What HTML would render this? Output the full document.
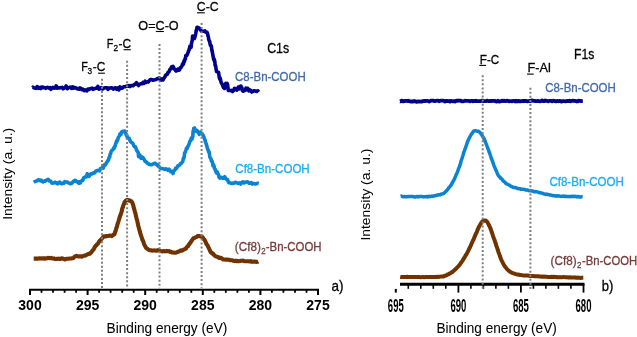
<!DOCTYPE html>
<html><head><meta charset="utf-8"><style>
html,body{margin:0;padding:0;background:#fff;}
svg{display:block;will-change:transform;}
text{font-family:"Liberation Sans",sans-serif;}
</style></head><body>
<svg width="637" height="337" viewBox="0 0 637 337">
<rect width="637" height="337" fill="#fff"/>
<path d="M32.4 87.8 L33.0 87.2 L33.9 87.9 L34.8 88.0 L36.0 88.4 L37.2 86.6 L38.6 88.3 L40.0 87.4 L40.8 88.5 L41.7 87.0 L42.7 87.1 L43.6 87.8 L44.7 87.6 L45.7 88.4 L46.8 87.5 L47.8 87.4 L48.9 88.1 L50.0 87.6 L51.0 89.3 L52.0 87.9 L53.0 87.4 L54.0 88.1 L55.1 88.0 L56.1 85.9 L57.1 88.2 L58.1 87.5 L59.1 88.0 L60.1 87.7 L61.1 87.7 L62.1 87.3 L63.1 88.8 L64.0 88.1 L65.0 87.5 L66.1 85.9 L67.2 88.7 L68.3 88.0 L69.4 87.4 L70.5 87.1 L71.5 88.3 L72.6 86.8 L73.5 88.2 L74.4 87.6 L75.3 87.5 L76.0 88.1 L77.5 88.9 L78.4 88.5 L79.2 89.2 L80.0 87.9 L80.9 88.5 L81.8 89.7 L82.8 89.2 L84.0 90.6 L84.9 89.8 L85.8 90.4 L86.9 90.9 L88.0 89.0 L89.1 89.5 L90.1 88.8 L91.0 88.6 L92.1 88.2 L93.0 89.3 L94.0 88.8 L94.9 88.5 L96.0 88.1 L96.9 88.2 L97.9 86.4 L99.0 89.1 L100.0 88.6 L101.1 87.7 L102.1 88.9 L103.0 88.9 L104.1 87.9 L105.2 87.7 L106.1 87.7 L107.1 87.8 L108.0 89.4 L109.1 88.0 L110.2 88.1 L111.3 87.8 L112.6 88.3 L113.5 89.1 L114.5 88.1 L115.6 87.8 L116.7 89.3 L117.8 87.9 L118.9 89.9 L120.0 86.9 L121.0 88.3 L122.1 88.2 L123.1 87.2 L124.2 86.7 L125.2 86.8 L126.1 86.2 L127.0 86.1 L128.1 86.2 L129.1 85.7 L130.0 86.6 L131.0 85.5 L132.0 85.8 L133.1 85.7 L134.2 84.5 L135.3 84.2 L136.5 82.6 L137.7 84.7 L138.7 85.5 L139.8 84.1 L140.8 83.8 L141.9 83.8 L142.9 82.5 L144.0 83.4 L145.1 81.2 L146.2 82.4 L147.3 81.9 L148.3 82.1 L149.3 80.6 L150.3 79.5 L151.6 79.5 L152.8 80.3 L153.9 79.9 L155.0 79.7 L156.2 79.5 L157.3 78.5 L158.4 78.7 L159.3 77.9 L161.0 80.1 L162.0 78.9 L163.0 79.9 L163.6 78.8 L164.3 77.8 L165.0 76.6 L165.5 75.3 L166.1 75.1 L166.7 74.4 L167.3 74.3 L168.0 72.4 L168.6 72.3 L169.2 71.3 L169.8 69.5 L170.5 69.3 L171.1 67.9 L171.7 66.7 L172.2 66.6 L173.0 66.4 L173.5 67.2 L174.0 68.9 L174.9 69.2 L176.0 71.0 L176.9 70.8 L178.0 69.1 L179.0 70.1 L179.6 69.8 L180.2 67.7 L180.9 67.8 L181.5 66.4 L182.0 66.0 L182.4 64.3 L182.9 63.5 L183.4 64.3 L184.0 60.9 L184.5 61.5 L184.9 59.1 L185.4 59.0 L185.8 55.5 L186.3 55.8 L186.8 55.4 L187.3 54.4 L187.7 53.3 L188.2 52.2 L188.6 50.7 L189.0 50.2 L189.4 48.8 L189.9 46.2 L190.3 47.2 L190.7 46.7 L191.1 47.4 L191.4 43.7 L191.7 42.7 L192.0 41.1 L192.3 40.4 L192.4 38.9 L192.4 38.1 L192.4 37.1 L192.5 37.3 L192.6 36.1 L193.4 37.3 L194.5 38.4 L194.8 37.2 L195.0 36.6 L195.3 35.5 L195.6 34.1 L195.9 32.5 L196.2 31.2 L196.5 29.5 L196.7 29.6 L197.0 27.2 L198.9 28.0 L199.7 28.4 L200.5 30.0 L201.4 31.2 L202.6 31.3 L203.9 31.1 L204.9 30.9 L206.0 32.3 L207.0 32.2 L207.3 33.4 L207.6 33.6 L207.9 35.7 L208.2 36.2 L208.4 36.9 L208.7 39.6 L209.0 39.8 L209.3 41.1 L209.7 41.3 L210.0 43.7 L210.4 45.4 L210.7 45.1 L211.1 45.5 L211.4 46.9 L211.6 48.0 L211.8 50.3 L212.1 50.4 L212.3 52.4 L212.5 52.5 L212.7 54.4 L212.9 55.1 L213.1 56.6 L213.3 57.3 L213.5 58.7 L213.8 59.7 L214.0 60.2 L214.3 59.2 L214.6 61.9 L214.8 61.2 L215.1 65.2 L215.3 65.8 L215.5 65.4 L215.8 66.8 L216.1 69.3 L216.3 70.0 L216.5 71.4 L216.8 71.7 L218.4 72.4 L218.6 72.4 L218.8 73.8 L219.0 75.9 L219.2 76.2 L219.3 77.7 L219.6 78.5 L219.8 79.0 L220.3 78.2 L220.9 81.6 L221.4 83.1 L222.0 83.9 L222.5 84.8 L223.0 86.4 L223.4 87.5 L224.0 87.9 L224.5 88.4 L225.2 84.6 L225.8 83.4 L226.4 85.3 L226.9 83.7 L227.2 83.4 L227.4 85.5 L227.6 84.4 L227.9 87.8 L228.3 90.4 L229.1 89.9 L230.2 90.6 L231.3 90.4 L232.5 91.6 L233.5 90.5 L234.5 88.3 L235.6 88.9 L236.6 90.2 L237.5 89.4 L238.3 87.0 L239.1 88.9 L239.8 87.3 L240.4 86.2 L241.0 86.1 L241.5 88.9 L241.9 87.7 L242.2 90.3 L242.6 90.7 L243.0 91.2 L243.7 91.0 L244.5 90.5 L245.2 90.5 L246.0 88.1 L246.9 88.4 L247.8 88.4 L248.8 90.8 L249.7 89.9 L250.7 90.4 L251.8 92.0 L253.0 91.2 L254.1 90.8 L255.4 91.0 L256.8 91.4 L257.9 90.9 L258.7 92.0" fill="none" stroke="#00008a" stroke-width="3.6" stroke-linejoin="round" stroke-linecap="butt"/>
<path d="M33.7 182.2 L34.4 181.8 L35.4 181.4 L36.6 181.0 L37.8 180.1 L39.0 179.8 L39.9 180.6 L41.1 180.1 L41.9 181.4 L43.0 181.9 L43.9 181.0 L44.9 181.3 L46.0 180.5 L47.1 179.8 L48.1 179.3 L49.1 180.9 L50.0 180.7 L50.9 181.4 L51.9 183.1 L53.1 183.0 L54.1 183.0 L55.2 182.2 L56.3 182.9 L57.5 183.8 L58.6 182.5 L59.7 182.1 L60.7 183.5 L61.9 183.6 L62.9 183.0 L63.8 183.3 L64.7 181.7 L65.7 182.0 L66.8 182.0 L68.0 182.5 L69.1 183.1 L70.2 183.7 L71.3 183.5 L72.3 182.8 L73.2 181.4 L74.1 181.5 L74.9 180.4 L75.7 180.6 L76.8 182.0 L77.7 181.8 L78.9 183.3 L79.6 181.8 L80.3 182.9 L81.1 181.1 L81.9 180.8 L82.8 180.4 L83.6 177.7 L84.5 177.2 L85.4 176.9 L86.3 177.0 L87.2 173.8 L88.2 175.3 L89.1 176.4 L90.0 174.9 L90.8 173.9 L91.9 174.0 L92.9 173.0 L93.8 173.2 L94.8 172.7 L95.8 171.1 L96.7 171.0 L97.7 170.4 L98.7 170.6 L99.6 170.9 L100.5 168.5 L101.4 168.4 L102.3 167.6 L103.2 168.1 L104.0 165.7 L104.7 164.5 L105.5 164.8 L106.1 163.4 L106.8 162.1 L107.4 161.5 L107.9 160.4 L108.4 160.2 L108.9 158.3 L109.3 157.0 L109.7 157.2 L109.9 155.3 L110.2 154.0 L110.5 153.9 L111.1 151.8 L111.7 150.5 L112.3 150.2 L112.8 149.8 L113.4 148.7 L114.0 147.5 L114.4 148.1 L114.8 146.0 L115.2 145.8 L115.7 143.7 L116.1 143.0 L116.6 140.8 L117.1 141.1 L117.6 140.2 L118.1 138.2 L118.6 137.0 L119.0 136.5 L119.5 135.6 L120.0 133.8 L120.5 133.9 L121.0 134.4 L121.4 132.3 L121.8 131.8 L123.3 131.3 L124.8 131.1 L125.3 133.0 L125.8 133.2 L126.3 135.3 L126.9 135.4 L127.5 138.3 L128.3 138.2 L129.2 138.3 L129.9 140.3 L130.6 141.7 L131.4 142.2 L132.0 142.9 L132.7 143.2 L133.4 144.7 L134.1 146.4 L134.7 146.5 L135.4 146.9 L136.1 148.5 L136.7 150.5 L137.3 151.3 L137.8 151.6 L138.2 152.6 L138.6 156.7 L139.0 154.3 L139.6 155.1 L140.3 155.8 L141.1 158.4 L141.9 156.8 L142.8 157.5 L143.7 158.7 L144.4 160.0 L145.0 161.4 L145.7 161.2 L146.5 162.3 L147.2 163.1 L148.0 163.2 L148.9 164.4 L149.8 164.4 L150.9 164.7 L152.0 164.6 L153.1 163.9 L154.2 163.5 L155.2 163.3 L156.1 163.9 L157.1 165.2 L157.9 164.9 L158.6 166.6 L159.4 166.9 L160.3 168.2 L161.2 168.5 L162.3 168.5 L163.4 168.9 L164.6 169.4 L165.6 168.8 L166.5 169.0 L167.9 170.3 L169.0 169.2 L170.0 170.3 L170.8 171.8 L171.5 171.7 L172.4 172.3 L173.0 173.5 L173.6 170.8 L174.3 170.7 L175.0 169.8 L175.8 168.1 L176.5 168.2 L177.2 167.1 L178.0 165.8 L178.9 165.5 L179.8 164.8 L180.6 163.5 L181.4 163.3 L182.0 162.3 L182.6 161.7 L183.0 160.4 L183.4 158.1 L183.7 158.6 L184.0 157.3 L184.3 156.3 L184.6 152.9 L184.9 152.4 L185.2 152.2 L185.5 151.6 L185.9 150.2 L186.3 148.6 L186.8 148.0 L187.2 148.3 L187.6 147.2 L188.1 146.0 L188.6 145.2 L189.1 143.7 L189.6 142.5 L190.0 141.2 L190.7 140.3 L191.3 138.1 L191.9 139.2 L192.4 137.5 L192.6 136.3 L192.8 136.6 L192.9 135.2 L193.0 132.7 L193.2 130.8 L193.3 132.1 L193.8 128.4 L194.5 128.0 L195.2 129.5 L196.1 131.3 L197.2 130.6 L198.2 132.2 L199.3 134.4 L200.3 132.1 L201.2 133.1 L202.0 133.6 L202.5 134.5 L203.0 135.0 L203.5 136.1 L203.9 136.9 L204.5 139.1 L204.8 139.8 L205.1 140.1 L205.4 141.9 L205.8 142.7 L206.1 143.7 L206.5 144.8 L206.9 146.4 L207.2 147.5 L207.5 148.2 L207.7 149.3 L208.2 150.0 L208.6 151.6 L208.8 152.2 L209.0 152.2 L209.2 152.0 L209.5 154.6 L209.7 155.8 L210.0 157.2 L210.3 158.2 L210.9 158.6 L211.5 161.3 L212.1 161.3 L212.7 163.7 L213.0 165.8 L213.3 164.7 L213.6 165.2 L213.9 165.6 L214.2 167.0 L214.5 168.5 L215.1 169.2 L215.7 171.0 L216.3 172.8 L216.9 171.5 L217.5 172.3 L218.0 174.1 L218.5 174.6 L219.2 177.7 L220.0 178.1 L220.8 177.3 L221.8 177.5 L222.8 178.2 L223.7 178.3 L224.7 176.7 L225.7 178.5 L226.7 179.5 L227.5 179.6 L228.4 182.2 L229.0 182.8 L229.9 182.6 L230.9 183.3 L232.1 183.4 L233.4 183.2 L234.7 182.7 L235.8 182.3 L237.0 182.8 L238.2 183.4 L239.4 182.9 L240.6 184.1 L241.8 182.4 L243.0 181.8 L244.1 182.9 L245.3 182.3 L246.5 182.0 L247.7 181.8 L248.8 183.1 L250.0 183.2 L251.2 182.6 L252.4 184.1 L253.5 183.4 L254.7 183.9 L256.0 183.9 L257.1 183.5 L258.1 183.3 L258.8 183.5" fill="none" stroke="#0983d2" stroke-width="3.6" stroke-linejoin="round" stroke-linecap="butt"/>
<path d="M33.7 258.6 L34.3 258.6 L35.0 258.6 L35.8 258.6 L36.8 258.6 L37.8 258.8 L38.9 258.4 L40.0 258.3 L41.2 258.6 L42.4 258.2 L43.5 258.2 L44.7 258.8 L45.8 258.4 L46.8 258.3 L47.9 257.8 L48.9 258.0 L50.0 258.2 L51.0 257.8 L52.1 258.3 L53.1 258.6 L54.2 258.4 L55.2 259.1 L56.3 258.9 L57.3 259.0 L58.4 258.6 L59.4 258.9 L60.5 258.9 L61.6 258.3 L62.8 258.5 L63.9 259.1 L65.1 259.5 L66.3 258.8 L67.4 258.8 L68.5 258.7 L69.5 258.5 L70.4 258.5 L71.3 258.5 L72.0 258.3 L73.5 257.9 L74.3 257.0 L74.9 256.4 L75.7 256.4 L76.6 255.8 L77.6 256.2 L78.7 256.5 L79.8 256.2 L80.8 256.3 L81.8 256.7 L82.8 256.1 L83.8 255.7 L84.8 255.6 L85.8 255.5 L86.8 254.6 L87.8 254.3 L88.8 253.8 L89.8 253.7 L90.8 252.7 L91.4 252.4 L92.0 251.1 L92.7 250.4 L93.3 249.8 L93.9 248.9 L94.5 247.6 L95.2 246.4 L95.8 245.6 L96.4 245.2 L97.1 244.2 L97.8 243.8 L98.4 242.9 L99.1 241.5 L99.7 240.8 L100.3 240.4 L100.9 239.6 L101.9 238.6 L102.8 237.4 L103.7 236.5 L104.6 236.3 L105.6 236.5 L106.7 236.1 L107.8 235.9 L108.9 235.7 L109.9 235.6 L110.9 235.7 L111.9 236.1 L112.9 235.2 L113.8 234.3 L114.2 234.4 L114.6 233.7 L114.9 232.9 L115.3 231.4 L115.7 230.8 L116.0 229.7 L116.3 228.1 L116.7 227.4 L117.1 226.2 L117.4 224.7 L117.8 223.4 L118.1 222.4 L118.4 221.6 L118.7 220.6 L119.0 219.4 L119.3 218.7 L119.6 217.3 L119.9 216.8 L120.3 215.2 L120.6 215.0 L120.9 213.8 L121.2 213.0 L121.5 212.0 L121.8 210.9 L122.0 209.7 L122.3 208.3 L122.8 207.5 L123.2 205.7 L123.6 204.6 L124.0 203.9 L124.4 202.8 L124.8 201.8 L125.2 201.6 L125.6 200.9 L126.7 200.0 L127.9 199.8 L129.0 200.6 L129.8 200.4 L130.7 201.0 L131.5 201.4 L132.3 202.6 L132.6 203.5 L132.8 204.4 L133.1 204.6 L133.4 206.0 L133.6 207.0 L133.9 207.9 L134.1 209.0 L134.4 209.4 L134.7 211.0 L135.0 212.3 L135.3 212.8 L135.6 214.2 L135.8 215.1 L136.0 216.3 L136.3 217.2 L136.5 218.2 L136.8 219.4 L137.0 219.8 L137.3 221.0 L137.5 222.2 L137.8 223.3 L138.0 224.3 L138.3 226.0 L138.6 226.9 L138.8 227.4 L139.1 228.8 L139.3 229.7 L139.6 230.6 L139.9 231.5 L140.1 232.6 L140.4 233.8 L140.8 234.7 L141.1 235.7 L141.5 236.8 L141.8 237.6 L142.1 238.9 L142.5 239.9 L142.8 240.4 L143.1 241.0 L143.5 242.0 L143.8 243.1 L144.2 244.2 L144.5 245.1 L145.2 246.1 L145.8 247.5 L146.5 248.2 L147.2 248.8 L148.0 249.3 L149.0 249.9 L149.9 250.3 L150.9 250.2 L152.0 250.6 L153.2 250.5 L154.4 250.4 L155.6 250.6 L156.8 250.6 L157.9 250.1 L159.0 250.6 L160.2 250.8 L161.4 251.3 L162.6 251.4 L163.7 251.0 L164.8 251.4 L165.9 251.3 L166.8 250.9 L168.1 251.2 L169.2 251.1 L170.1 251.9 L171.1 251.9 L172.0 252.4 L173.2 252.6 L174.3 252.6 L175.4 252.7 L176.5 252.4 L177.6 251.9 L178.8 251.8 L179.9 250.8 L180.9 250.4 L182.2 250.6 L183.3 249.8 L184.5 249.4 L185.2 248.7 L185.9 248.7 L186.7 247.3 L187.4 246.4 L188.1 246.1 L188.7 244.7 L189.3 244.3 L189.9 243.2 L190.5 242.4 L191.1 241.7 L191.6 240.7 L192.5 239.8 L193.4 238.3 L194.3 238.1 L195.4 237.3 L196.7 236.8 L197.9 235.9 L199.1 236.1 L200.4 236.4 L201.5 236.2 L202.4 237.2 L203.2 238.3 L204.1 239.7 L204.6 239.8 L205.1 240.8 L205.6 241.9 L206.1 243.2 L206.6 244.3 L207.2 244.9 L207.7 245.7 L208.2 246.8 L208.7 247.8 L209.2 248.9 L209.6 249.6 L210.1 250.9 L210.7 252.2 L211.3 252.4 L212.1 253.4 L212.9 253.6 L213.8 254.8 L214.7 255.6 L215.7 256.3 L216.6 256.6 L217.5 256.9 L218.4 257.4 L219.3 258.0 L220.3 257.7 L221.3 258.0 L222.3 258.9 L223.2 259.5 L224.2 259.5 L225.1 259.5 L226.1 259.8 L227.2 259.5 L228.2 259.7 L229.3 259.8 L230.3 260.3 L231.3 260.2 L232.4 260.3 L233.5 260.8 L234.5 261.1 L235.6 260.7 L236.7 261.2 L237.8 260.9 L238.9 261.2 L239.9 261.0 L241.0 260.7 L242.1 260.7 L243.1 260.6 L244.2 261.1 L245.2 261.2 L246.3 261.3 L247.4 261.3 L248.5 261.2 L249.7 261.5 L250.8 261.1 L251.9 261.9 L252.9 261.6 L253.9 261.7 L254.7 261.6 L256.4 261.9 L257.5 261.8 L258.3 261.4" fill="none" stroke="#703300" stroke-width="4.1" stroke-linejoin="round" stroke-linecap="butt"/>
<path d="M400.0 101.3 L400.5 101.4 L401.1 100.8 L401.7 100.7 L402.4 100.9 L403.1 101.4 L403.8 101.3 L404.6 101.0 L405.4 101.0 L406.3 100.8 L407.2 101.0 L408.1 100.7 L409.1 101.2 L410.0 101.4 L411.0 101.5 L412.1 101.4 L413.1 101.6 L414.2 101.0 L415.3 101.3 L416.4 101.8 L417.5 101.6 L418.6 101.3 L419.8 101.7 L420.9 101.5 L422.1 101.6 L423.2 101.1 L424.4 100.9 L425.6 101.0 L426.7 100.8 L427.9 101.0 L429.1 101.5 L430.2 101.0 L431.4 100.7 L432.5 100.6 L433.6 100.7 L434.7 101.2 L435.8 100.8 L436.9 100.7 L438.0 100.6 L439.0 101.3 L440.0 100.8 L441.0 100.7 L442.0 100.6 L443.0 100.7 L444.0 100.9 L445.0 101.5 L446.0 101.0 L447.0 100.9 L448.0 101.2 L449.0 101.0 L450.0 101.6 L451.0 100.9 L452.0 101.2 L453.0 101.4 L454.0 101.1 L455.0 101.5 L456.0 100.9 L457.0 100.6 L458.0 100.8 L459.0 100.5 L460.0 100.8 L461.0 100.7 L462.0 101.3 L463.0 101.3 L464.0 101.1 L465.0 100.7 L466.0 100.9 L467.0 100.9 L468.0 100.9 L469.0 100.9 L470.0 101.4 L471.0 100.9 L472.0 100.8 L473.0 101.3 L474.0 100.9 L475.0 101.1 L476.0 100.7 L477.0 101.2 L478.0 101.1 L479.0 101.2 L480.0 101.2 L481.0 101.0 L482.0 100.6 L483.0 100.7 L484.0 101.2 L485.0 101.2 L486.0 101.1 L487.0 100.6 L488.0 100.9 L489.0 101.1 L490.0 101.0 L491.0 101.1 L492.0 100.8 L493.0 100.8 L494.0 101.0 L495.0 100.8 L496.0 101.5 L497.0 101.5 L498.0 100.8 L499.0 101.5 L500.0 101.5 L501.0 101.2 L502.0 100.6 L503.0 101.2 L504.0 100.6 L505.0 101.2 L506.0 101.1 L507.0 100.7 L508.0 100.9 L509.0 101.3 L510.0 101.1 L511.0 101.2 L512.0 101.4 L513.0 100.9 L514.0 100.8 L515.0 101.5 L516.0 100.8 L517.0 101.5 L518.0 100.8 L519.0 101.3 L520.0 101.2 L521.0 101.3 L522.0 101.0 L523.0 101.3 L524.1 100.8 L525.1 101.2 L526.2 100.9 L527.2 101.4 L528.3 101.2 L529.3 101.0 L530.4 101.0 L531.5 100.5 L532.5 100.5 L533.6 100.9 L534.7 100.9 L535.8 101.2 L536.8 101.1 L537.9 100.8 L539.0 101.1 L540.0 101.3 L541.1 101.0 L542.1 100.4 L543.2 101.1 L544.2 101.1 L545.2 100.5 L546.3 100.9 L547.3 100.9 L548.3 101.4 L549.3 100.9 L550.2 100.8 L551.2 100.9 L552.2 101.4 L553.1 100.7 L554.0 100.8 L554.9 101.2 L555.8 101.4 L556.7 101.1 L557.6 101.0 L558.4 101.3 L559.2 101.2 L560.0 100.8 L561.4 101.6 L562.8 101.2 L564.2 101.1 L565.5 101.4 L566.8 100.9 L568.1 101.2 L569.3 100.7 L570.5 101.4 L571.7 100.8 L572.8 100.7 L573.9 100.9 L574.9 100.9 L576.0 101.1 L576.9 101.5 L577.8 101.3 L578.7 100.6 L579.5 100.8 L580.3 101.0 L581.0 101.0 L581.6 101.2 L582.3 101.1 L582.8 101.1" fill="none" stroke="#00008a" stroke-width="3.8" stroke-linejoin="round" stroke-linecap="butt"/>
<path d="M400.6 196.3 L401.2 196.1 L401.9 196.3 L402.7 196.5 L403.7 196.7 L404.7 196.4 L405.8 196.8 L406.9 196.7 L408.1 196.6 L409.3 196.6 L410.6 196.5 L411.8 196.5 L413.0 196.5 L414.1 196.9 L415.3 197.1 L416.3 196.7 L417.3 196.5 L418.4 196.9 L419.6 196.5 L420.6 196.5 L421.7 196.5 L422.8 196.7 L423.8 196.9 L424.8 196.7 L425.8 196.8 L426.8 196.5 L427.7 196.9 L428.7 196.3 L429.7 196.5 L430.6 196.6 L431.7 196.1 L432.8 196.2 L433.9 196.1 L435.0 195.7 L436.1 195.6 L437.1 195.1 L438.1 195.1 L439.1 194.7 L440.1 194.8 L441.0 194.1 L441.8 193.9 L442.9 193.8 L443.8 193.2 L444.7 192.6 L445.5 191.7 L446.3 191.0 L447.0 190.3 L447.8 189.2 L448.5 188.2 L449.1 187.5 L449.7 186.7 L450.2 186.0 L450.8 185.6 L451.3 184.7 L451.9 183.6 L452.4 182.7 L452.9 181.7 L453.5 180.6 L454.0 179.6 L454.4 179.1 L454.8 178.2 L455.2 177.0 L455.6 176.2 L456.0 175.2 L456.4 174.2 L456.9 173.3 L457.3 172.4 L457.7 171.1 L458.1 170.2 L458.5 168.8 L458.9 168.0 L459.2 167.2 L459.6 166.2 L459.9 164.9 L460.3 164.3 L460.6 163.0 L460.9 162.0 L461.2 160.6 L461.5 159.9 L461.8 158.9 L462.1 158.2 L462.4 157.2 L462.7 156.3 L463.0 155.2 L463.3 154.2 L463.6 153.0 L463.9 152.2 L464.2 151.3 L464.6 150.4 L464.9 149.2 L465.3 148.5 L465.6 147.5 L466.0 146.3 L466.4 145.4 L466.7 144.3 L467.1 143.0 L467.5 142.0 L467.8 140.9 L468.2 140.5 L468.5 139.8 L468.9 138.7 L469.5 137.6 L470.1 136.4 L470.7 135.4 L471.3 134.2 L471.9 133.7 L472.5 132.8 L473.0 132.1 L473.5 131.3 L474.6 130.7 L475.5 130.8 L476.4 131.0 L477.5 131.2 L478.7 131.3 L479.9 132.3 L480.5 133.1 L481.0 133.9 L481.6 134.5 L482.2 135.7 L482.8 136.7 L483.5 137.7 L483.9 138.6 L484.2 139.2 L484.6 139.9 L485.0 140.9 L485.4 142.1 L485.8 143.0 L486.2 144.1 L486.7 145.0 L487.1 146.3 L487.5 147.4 L487.9 148.6 L488.3 149.6 L488.7 150.4 L489.0 151.8 L489.4 152.2 L489.8 153.5 L490.1 154.5 L490.5 155.7 L490.8 156.6 L491.2 158.1 L491.6 158.9 L491.9 159.6 L492.3 160.8 L492.6 161.4 L493.0 162.7 L493.4 163.8 L493.8 165.1 L494.2 166.3 L494.7 167.3 L495.1 168.0 L495.5 169.3 L495.9 170.1 L496.3 170.9 L496.7 171.7 L497.1 172.9 L497.5 173.8 L498.1 175.1 L498.7 176.0 L499.3 176.6 L500.0 177.2 L500.6 178.3 L501.3 178.5 L502.0 179.3 L502.8 180.4 L503.6 181.2 L504.5 181.7 L505.3 182.8 L506.2 183.7 L507.1 183.9 L508.0 184.5 L509.0 184.9 L510.0 185.5 L511.1 186.5 L512.1 186.7 L513.1 187.3 L514.0 187.5 L515.1 187.5 L516.1 187.7 L517.1 188.5 L518.0 188.5 L519.0 188.7 L520.0 188.8 L520.9 189.4 L521.8 189.2 L522.8 189.2 L523.9 189.4 L524.8 189.4 L525.7 190.0 L526.6 190.1 L527.6 190.1 L528.7 190.5 L529.8 190.7 L531.0 190.5 L531.9 191.0 L532.9 191.1 L533.9 191.7 L534.9 191.7 L536.0 191.6 L537.1 191.9 L538.2 192.1 L539.3 192.8 L540.4 192.7 L541.5 193.1 L542.5 193.3 L543.5 193.7 L544.5 194.0 L545.5 194.4 L546.5 194.1 L547.5 194.6 L548.5 194.5 L549.5 194.9 L550.5 195.0 L551.5 195.2 L552.5 195.5 L553.5 195.7 L554.5 195.7 L555.5 196.1 L556.5 196.1 L557.5 195.8 L558.5 196.0 L559.5 196.1 L560.5 196.3 L561.5 196.4 L562.5 196.2 L563.5 196.0 L564.5 196.5 L565.5 196.3 L566.6 196.5 L567.6 196.6 L568.7 196.6 L569.7 196.5 L570.7 196.7 L571.7 196.3 L572.7 196.3 L573.6 196.6 L574.5 196.3 L575.7 196.5 L576.9 196.9 L578.1 196.4 L579.3 196.9 L580.3 196.9 L581.3 196.8 L582.1 196.7 L582.7 196.7" fill="none" stroke="#0983d2" stroke-width="3.5" stroke-linejoin="round" stroke-linecap="butt"/>
<path d="M400.2 276.9 L400.8 277.0 L401.4 277.1 L402.2 277.1 L403.1 277.0 L404.0 277.0 L405.0 277.0 L406.1 276.9 L407.2 276.8 L408.3 277.0 L409.5 276.9 L410.7 277.0 L411.9 277.0 L413.1 276.9 L414.3 276.9 L415.5 277.0 L416.6 277.1 L417.7 277.1 L418.8 277.0 L419.8 277.1 L420.8 277.3 L421.9 277.1 L423.0 277.1 L424.1 277.2 L425.2 277.1 L426.3 277.0 L427.4 277.1 L428.5 277.1 L429.6 276.9 L430.6 277.0 L431.6 276.9 L432.7 277.0 L433.6 276.9 L434.6 277.0 L435.5 277.1 L436.3 277.0 L437.1 276.8 L437.8 276.9 L439.5 276.7 L440.8 276.6 L441.8 276.5 L442.6 276.5 L443.4 276.4 L444.1 276.0 L445.0 275.7 L446.0 275.5 L447.0 274.9 L448.0 274.4 L448.9 274.1 L449.8 273.4 L450.8 273.0 L451.6 272.3 L452.5 271.9 L453.3 271.2 L454.2 270.3 L455.0 269.5 L455.8 269.0 L456.6 268.1 L457.3 267.3 L458.0 266.7 L458.7 265.9 L459.4 265.0 L460.1 264.2 L460.7 263.2 L461.4 262.3 L461.9 261.5 L462.5 260.8 L463.0 259.9 L463.6 258.9 L464.1 258.1 L464.7 257.1 L465.2 256.2 L465.7 255.4 L466.2 254.6 L466.7 253.8 L467.2 252.8 L467.7 251.9 L468.2 250.8 L468.7 250.0 L469.1 248.8 L469.6 248.0 L470.1 247.0 L470.5 246.1 L471.0 245.1 L471.4 244.0 L471.8 243.1 L472.3 242.1 L472.7 241.0 L473.1 240.3 L473.6 239.3 L474.0 238.2 L474.4 237.3 L474.9 236.2 L475.3 235.1 L475.7 234.2 L476.2 233.1 L476.6 232.4 L477.0 231.4 L477.4 230.3 L477.8 229.6 L478.3 228.2 L478.8 227.3 L479.3 226.1 L479.8 225.4 L480.2 224.5 L480.7 223.9 L481.4 222.5 L482.1 221.7 L482.8 221.2 L483.5 220.8 L484.5 220.5 L485.5 220.4 L486.5 221.1 L487.0 221.7 L487.5 222.3 L488.0 223.4 L488.6 224.3 L489.1 225.5 L489.7 226.7 L490.0 227.3 L490.4 228.1 L490.7 229.2 L491.0 230.0 L491.4 231.1 L491.7 232.1 L492.1 233.1 L492.4 234.0 L492.8 235.1 L493.1 236.3 L493.5 237.2 L493.8 238.2 L494.1 239.0 L494.5 239.9 L494.8 240.9 L495.1 242.0 L495.5 242.9 L495.8 243.9 L496.1 244.9 L496.4 246.0 L496.8 247.0 L497.1 247.8 L497.4 248.7 L497.7 249.7 L498.1 250.8 L498.4 251.9 L498.8 252.9 L499.1 253.8 L499.5 254.7 L499.8 255.7 L500.2 256.8 L500.5 257.7 L500.9 258.6 L501.2 259.6 L501.7 260.5 L502.2 261.6 L502.7 262.5 L503.1 263.4 L503.6 264.4 L504.1 265.1 L504.6 266.0 L505.1 266.9 L505.9 267.7 L506.6 268.7 L507.3 269.4 L508.1 270.1 L509.0 270.8 L509.8 271.6 L510.7 272.0 L511.6 272.7 L512.6 273.0 L513.6 273.4 L514.7 273.7 L515.7 274.1 L516.8 274.4 L517.9 274.5 L519.1 274.8 L520.2 275.1 L521.4 275.1 L522.5 275.3 L523.5 275.4 L524.4 275.6 L525.3 275.4 L526.3 275.6 L527.3 275.5 L528.5 275.6 L530.0 276.0 L530.8 275.9 L531.6 276.1 L532.4 276.1 L533.3 276.1 L534.3 276.2 L535.2 276.2 L536.2 276.2 L537.2 276.3 L538.3 276.3 L539.4 276.6 L540.4 276.6 L541.6 276.7 L542.7 276.5 L543.8 276.7 L545.0 276.6 L545.9 276.8 L546.8 276.8 L547.7 276.9 L548.7 276.9 L549.7 276.9 L550.7 277.0 L551.7 276.8 L552.7 276.9 L553.8 276.8 L554.8 276.9 L555.8 276.9 L556.9 277.3 L557.9 277.1 L559.0 277.3 L560.0 277.3 L561.0 277.1 L562.0 277.3 L563.0 277.1 L564.0 277.1 L565.0 277.2 L566.1 277.2 L567.2 277.3 L568.4 277.5 L569.5 277.3 L570.7 277.5 L571.9 277.4 L573.1 277.5 L574.3 277.6 L575.4 277.5 L576.5 277.8 L577.6 277.6 L578.6 277.7 L579.6 277.8 L580.5 277.9 L581.3 277.8 L582.1 277.8 L582.7 277.8 L583.3 277.8" fill="none" stroke="#703300" stroke-width="4.0" stroke-linejoin="round" stroke-linecap="butt"/>
<line x1="29" y1="289.8" x2="319" y2="289.8" stroke="#000" stroke-width="2"/>
<line x1="318.0" y1="289" x2="318.0" y2="295" stroke="#000" stroke-width="2"/>
<line x1="306.5" y1="289" x2="306.5" y2="292.8" stroke="#000" stroke-width="1.8"/>
<line x1="295.0" y1="289" x2="295.0" y2="292.8" stroke="#000" stroke-width="1.8"/>
<line x1="283.4" y1="289" x2="283.4" y2="292.8" stroke="#000" stroke-width="1.8"/>
<line x1="271.9" y1="289" x2="271.9" y2="292.8" stroke="#000" stroke-width="1.8"/>
<line x1="260.4" y1="289" x2="260.4" y2="295" stroke="#000" stroke-width="2"/>
<line x1="248.9" y1="289" x2="248.9" y2="292.8" stroke="#000" stroke-width="1.8"/>
<line x1="237.4" y1="289" x2="237.4" y2="292.8" stroke="#000" stroke-width="1.8"/>
<line x1="225.8" y1="289" x2="225.8" y2="292.8" stroke="#000" stroke-width="1.8"/>
<line x1="214.3" y1="289" x2="214.3" y2="292.8" stroke="#000" stroke-width="1.8"/>
<line x1="202.8" y1="289" x2="202.8" y2="295" stroke="#000" stroke-width="2"/>
<line x1="191.3" y1="289" x2="191.3" y2="292.8" stroke="#000" stroke-width="1.8"/>
<line x1="179.8" y1="289" x2="179.8" y2="292.8" stroke="#000" stroke-width="1.8"/>
<line x1="168.2" y1="289" x2="168.2" y2="292.8" stroke="#000" stroke-width="1.8"/>
<line x1="156.7" y1="289" x2="156.7" y2="292.8" stroke="#000" stroke-width="1.8"/>
<line x1="145.2" y1="289" x2="145.2" y2="295" stroke="#000" stroke-width="2"/>
<line x1="133.7" y1="289" x2="133.7" y2="292.8" stroke="#000" stroke-width="1.8"/>
<line x1="122.2" y1="289" x2="122.2" y2="292.8" stroke="#000" stroke-width="1.8"/>
<line x1="110.6" y1="289" x2="110.6" y2="292.8" stroke="#000" stroke-width="1.8"/>
<line x1="99.1" y1="289" x2="99.1" y2="292.8" stroke="#000" stroke-width="1.8"/>
<line x1="87.6" y1="289" x2="87.6" y2="295" stroke="#000" stroke-width="2"/>
<line x1="76.1" y1="289" x2="76.1" y2="292.8" stroke="#000" stroke-width="1.8"/>
<line x1="64.6" y1="289" x2="64.6" y2="292.8" stroke="#000" stroke-width="1.8"/>
<line x1="53.0" y1="289" x2="53.0" y2="292.8" stroke="#000" stroke-width="1.8"/>
<line x1="41.5" y1="289" x2="41.5" y2="292.8" stroke="#000" stroke-width="1.8"/>
<line x1="30.0" y1="289" x2="30.0" y2="295" stroke="#000" stroke-width="2"/>
<text x="318.0" y="310" font-family="Liberation Sans" font-weight="bold" font-size="14" text-anchor="middle">275</text>
<text x="260.4" y="310" font-family="Liberation Sans" font-weight="bold" font-size="14" text-anchor="middle">280</text>
<text x="202.8" y="310" font-family="Liberation Sans" font-weight="bold" font-size="14" text-anchor="middle">285</text>
<text x="145.2" y="310" font-family="Liberation Sans" font-weight="bold" font-size="14" text-anchor="middle">290</text>
<text x="87.6" y="310" font-family="Liberation Sans" font-weight="bold" font-size="14" text-anchor="middle">295</text>
<text x="30.0" y="310" font-family="Liberation Sans" font-weight="bold" font-size="14" text-anchor="middle">300</text>
<line x1="400" y1="284.3" x2="584.5" y2="284.3" stroke="#000" stroke-width="3"/>
<line x1="583.5" y1="284" x2="583.5" y2="292.6" stroke="#000" stroke-width="1.8"/>
<line x1="570.9" y1="284" x2="570.9" y2="288.8" stroke="#000" stroke-width="1.6"/>
<line x1="558.4" y1="284" x2="558.4" y2="288.8" stroke="#000" stroke-width="1.6"/>
<line x1="545.9" y1="284" x2="545.9" y2="288.8" stroke="#000" stroke-width="1.6"/>
<line x1="533.4" y1="284" x2="533.4" y2="288.8" stroke="#000" stroke-width="1.6"/>
<line x1="520.9" y1="284" x2="520.9" y2="292.6" stroke="#000" stroke-width="1.8"/>
<line x1="508.4" y1="284" x2="508.4" y2="288.8" stroke="#000" stroke-width="1.6"/>
<line x1="495.9" y1="284" x2="495.9" y2="288.8" stroke="#000" stroke-width="1.6"/>
<line x1="483.4" y1="284" x2="483.4" y2="288.8" stroke="#000" stroke-width="1.6"/>
<line x1="470.9" y1="284" x2="470.9" y2="288.8" stroke="#000" stroke-width="1.6"/>
<line x1="458.4" y1="284" x2="458.4" y2="292.6" stroke="#000" stroke-width="1.8"/>
<line x1="445.8" y1="284" x2="445.8" y2="288.8" stroke="#000" stroke-width="1.6"/>
<line x1="433.3" y1="284" x2="433.3" y2="288.8" stroke="#000" stroke-width="1.6"/>
<line x1="420.8" y1="284" x2="420.8" y2="288.8" stroke="#000" stroke-width="1.6"/>
<line x1="408.3" y1="284" x2="408.3" y2="288.8" stroke="#000" stroke-width="1.6"/>
<line x1="395.8" y1="288.9" x2="395.8" y2="292.6" stroke="#000" stroke-width="2"/>
<text transform="translate(583.5 312.4) scale(0.53 1)" x="0" y="0" font-family="Liberation Sans" font-weight="bold" font-size="18" text-anchor="middle">680</text>
<text transform="translate(520.9 312.4) scale(0.53 1)" x="0" y="0" font-family="Liberation Sans" font-weight="bold" font-size="18" text-anchor="middle">685</text>
<text transform="translate(458.4 312.4) scale(0.53 1)" x="0" y="0" font-family="Liberation Sans" font-weight="bold" font-size="18" text-anchor="middle">690</text>
<text transform="translate(395.8 312.4) scale(0.53 1)" x="0" y="0" font-family="Liberation Sans" font-weight="bold" font-size="18" text-anchor="middle">695</text>
<line x1="102" y1="78.70" x2="102" y2="288.2" stroke="#808080" stroke-width="2" stroke-dasharray="2 2.065"/>
<line x1="127.1" y1="60.80" x2="127.1" y2="288.2" stroke="#808080" stroke-width="2" stroke-dasharray="2 2.065"/>
<line x1="159.5" y1="43.90" x2="159.5" y2="288.2" stroke="#808080" stroke-width="2" stroke-dasharray="2 2.065"/>
<line x1="201.6" y1="23.00" x2="201.6" y2="288.2" stroke="#808080" stroke-width="2" stroke-dasharray="2 2.065"/>
<line x1="482.7" y1="75.20" x2="482.7" y2="289.5" stroke="#808080" stroke-width="2" stroke-dasharray="2 2.065"/>
<line x1="530.4" y1="87.70" x2="530.4" y2="289.5" stroke="#808080" stroke-width="2" stroke-dasharray="2 2.065"/>
<text x="81.2" y="70.7" font-family="Liberation Sans" font-size="13.7" fill="#000" stroke="#000" stroke-width="0.3" textLength="6.6" lengthAdjust="spacingAndGlyphs">F</text>
<text x="87.6" y="74.2" font-family="Liberation Sans" font-size="9.5" fill="#000" stroke="#000" stroke-width="0.3" textLength="4.6" lengthAdjust="spacingAndGlyphs">3</text>
<text x="92.8" y="70.7" font-family="Liberation Sans" font-size="13.7" fill="#000" stroke="#000" stroke-width="0.3" textLength="12.6" lengthAdjust="spacingAndGlyphs">-C</text>
<line x1="98.0" y1="73.2" x2="104.9" y2="73.2" stroke="#000" stroke-width="1.1"/>
<text x="106.7" y="47.8" font-family="Liberation Sans" font-size="13.7" fill="#000" stroke="#000" stroke-width="0.3" textLength="6.6" lengthAdjust="spacingAndGlyphs">F</text>
<text x="113.4" y="50.6" font-family="Liberation Sans" font-size="9.5" fill="#000" stroke="#000" stroke-width="0.3" textLength="4.6" lengthAdjust="spacingAndGlyphs">2</text>
<text x="118.6" y="47.8" font-family="Liberation Sans" font-size="13.7" fill="#000" stroke="#000" stroke-width="0.3" textLength="12.6" lengthAdjust="spacingAndGlyphs">-C</text>
<line x1="123.6" y1="49.7" x2="130.8" y2="49.7" stroke="#000" stroke-width="1.1"/>
<text x="138.3" y="29.8" font-family="Liberation Sans" font-size="13.7" fill="#000" stroke="#000" stroke-width="0.3" textLength="40.4" lengthAdjust="spacingAndGlyphs">O=C-O</text>
<line x1="155.9" y1="31.5" x2="163.9" y2="31.5" stroke="#000" stroke-width="1.1"/>
<text x="196.8" y="10.8" font-family="Liberation Sans" font-size="13.7" fill="#000" stroke="#000" stroke-width="0.3" textLength="21.9" lengthAdjust="spacingAndGlyphs">C-C</text>
<line x1="197.0" y1="12.8" x2="204.8" y2="12.8" stroke="#000" stroke-width="1.1"/>
<text x="267.2" y="53.4" font-family="Liberation Sans" font-size="14.3" fill="#000" stroke="#000" stroke-width="0.3" textLength="22.0" lengthAdjust="spacingAndGlyphs">C1s</text>
<text x="235.1" y="80.7" font-family="Liberation Sans" font-size="12.9" fill="#4169a9" stroke="#4169a9" stroke-width="0.3" textLength="70.6" lengthAdjust="spacingAndGlyphs">C8-Bn-COOH</text>
<text x="235.3" y="172.7" font-family="Liberation Sans" font-size="12.9" fill="#18aef0" stroke="#18aef0" stroke-width="0.3" textLength="74.4" lengthAdjust="spacingAndGlyphs">Cf8-Bn-COOH</text>
<text x="234.8" y="251.0" font-family="Liberation Sans" font-size="12.9" fill="#7a3838" stroke="#7a3838" stroke-width="0.3" textLength="26.0" lengthAdjust="spacingAndGlyphs">(Cf8)</text>
<text x="261.2" y="254.0" font-family="Liberation Sans" font-size="9" fill="#7a3838" stroke="#7a3838" stroke-width="0.3" textLength="4.4" lengthAdjust="spacingAndGlyphs">2</text>
<text x="265.8" y="251.0" font-family="Liberation Sans" font-size="12.9" fill="#7a3838" stroke="#7a3838" stroke-width="0.3" textLength="55.8" lengthAdjust="spacingAndGlyphs">-Bn-COOH</text>
<text x="479.8" y="63.6" font-family="Liberation Sans" font-size="13.7" fill="#000" stroke="#000" stroke-width="0.3" textLength="19.4" lengthAdjust="spacingAndGlyphs">F-C</text>
<line x1="479.3" y1="65.4" x2="486.0" y2="65.4" stroke="#000" stroke-width="1.1"/>
<text x="527.6" y="71.7" font-family="Liberation Sans" font-size="13.7" fill="#000" stroke="#000" stroke-width="0.3" textLength="23.2" lengthAdjust="spacingAndGlyphs">F-Al</text>
<line x1="527.0" y1="74.1" x2="533.7" y2="74.1" stroke="#000" stroke-width="1.1"/>
<text x="574.0" y="59.4" font-family="Liberation Sans" font-size="14.3" fill="#000" stroke="#000" stroke-width="0.3" textLength="20.2" lengthAdjust="spacingAndGlyphs">F1s</text>
<text x="545.2" y="92.2" font-family="Liberation Sans" font-size="12.9" fill="#4169a9" stroke="#4169a9" stroke-width="0.3" textLength="70.6" lengthAdjust="spacingAndGlyphs">C8-Bn-COOH</text>
<text x="549.4" y="185.7" font-family="Liberation Sans" font-size="12.9" fill="#18aef0" stroke="#18aef0" stroke-width="0.3" textLength="74.4" lengthAdjust="spacingAndGlyphs">Cf8-Bn-COOH</text>
<text x="550.6" y="264.9" font-family="Liberation Sans" font-size="12.9" fill="#7a3838" stroke="#7a3838" stroke-width="0.3" textLength="26.0" lengthAdjust="spacingAndGlyphs">(Cf8)</text>
<text x="577.0" y="267.9" font-family="Liberation Sans" font-size="9" fill="#7a3838" stroke="#7a3838" stroke-width="0.3" textLength="4.4" lengthAdjust="spacingAndGlyphs">2</text>
<text x="582.0" y="264.9" font-family="Liberation Sans" font-size="12.9" fill="#7a3838" stroke="#7a3838" stroke-width="0.3" textLength="55.2" lengthAdjust="spacingAndGlyphs">-Bn-COOH</text>
<text x="106.6" y="333.4" font-family="Liberation Sans" font-size="14.4" fill="#000" stroke="#000" stroke-width="0.05" textLength="120.7" lengthAdjust="spacingAndGlyphs">Binding energy (eV)</text>
<text x="436.5" y="333.4" font-family="Liberation Sans" font-size="14.4" fill="#000" stroke="#000" stroke-width="0.05" textLength="120.3" lengthAdjust="spacingAndGlyphs">Binding energy (eV)</text>
<text x="331.4" y="290.7" font-family="Liberation Sans" font-size="14.4" fill="#000" stroke="#000" stroke-width="0.3" textLength="12.0" lengthAdjust="spacingAndGlyphs">a)</text>
<text x="601.8" y="290.6" font-family="Liberation Sans" font-size="14.4" fill="#000" stroke="#000" stroke-width="0.3" textLength="11.6" lengthAdjust="spacingAndGlyphs">b)</text>
<text transform="translate(11.9 219.8) rotate(-90)" x="0" y="0" font-family="Liberation Sans" font-size="13.6" textLength="92" lengthAdjust="spacingAndGlyphs">Intensity (a. u.)</text>
<text transform="translate(370.2 240.6) rotate(-90)" x="0" y="0" font-family="Liberation Sans" font-size="13.6" textLength="92" lengthAdjust="spacingAndGlyphs">Intensity (a. u.)</text>
</svg>
</body></html>
